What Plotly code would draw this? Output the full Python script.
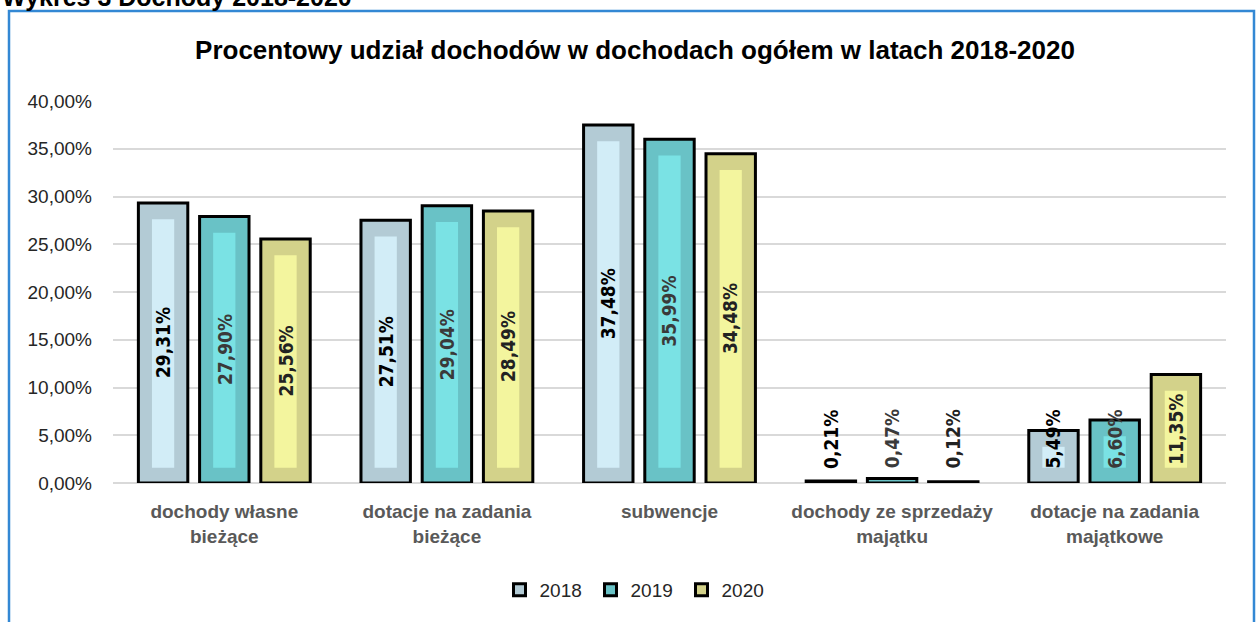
import plotly.graph_objects as go

categories = ["dochody własne<br>bieżące", "dotacje na zadania<br>bieżące", "subwencje",
              "dochody ze sprzedaży<br>majątku", "dotacje na zadania<br>majątkowe"]
years = ["2018", "2019", "2020"]
v2018 = [29.31, 27.51, 37.48, 0.21, 5.49]
v2019 = [27.90, 29.04, 35.99, 0.47, 6.60]
v2020 = [25.56, 28.49, 34.48, 0.12, 11.35]
series = [v2018, v2019, v2020]

outer_colors = ["#B3CBD5", "#69C2C6", "#D3D28A"]
inner_colors = ["#D2EDF7", "#7AE2E4", "#F3F59E"]
label_colors = ["#000000", "#3A3A3A", "#222222"]
centers = [-0.275, 0.0, 0.275]
W = 0.222
WI = 0.1
PAD_B, PAD_T = 1.6, 1.7

fig = go.Figure()
for j, (yr, vals) in enumerate(zip(years, series)):
    fig.add_trace(go.Bar(
        name=yr, x=categories, y=vals, width=W, offset=centers[j] - W / 2,
        marker=dict(color=outer_colors[j], line=dict(color="#000000", width=3)),
        hoverinfo="x+y",
    ))
for j, vals in enumerate(series):
    inner = [v - PAD_B - PAD_T if v > 4 else None for v in vals]
    fig.add_trace(go.Bar(
        x=categories, y=inner, base=PAD_B, width=WI, offset=centers[j] - WI / 2,
        marker=dict(color=inner_colors[j], line=dict(width=0)),
        showlegend=False, hoverinfo="skip",
    ))

annotations = []
for j, vals in enumerate(series):
    for i, v in enumerate(vals):
        annotations.append(dict(
            x=i + centers[j], y=max(v / 2, 4.6), xref="x", yref="y",
            text=f"{v:.2f}".replace(".", ",") + "%", textangle=-90, showarrow=False,
            xanchor="center", yanchor="middle",
            font=dict(family="Liberation Sans Narrow, Arial Narrow, DejaVu Sans Condensed, sans-serif",
                      size=19, color=label_colors[j], weight="bold"),
        ))
annotations.append(dict(
    text="<b>Wykres 3 Dochody 2018-2020</b>", xref="paper", yref="paper",
    x=(0 - 113) / 1113, y=1 + (101 + 3) / 382, xanchor="left", yanchor="middle",
    showarrow=False, font=dict(family="Liberation Sans, Arial, sans-serif", size=25, color="#000000"),
))

fig.update_layout(
    width=1257, height=622,
    margin=dict(l=113, r=31, t=101, b=139),
    barmode="overlay",
    paper_bgcolor="white", plot_bgcolor="white",
    separators=", ",
    font=dict(family="Liberation Sans, Arial, sans-serif", size=19, color="#262626"),
    title=dict(text="<b>Procentowy udział dochodów w dochodach ogółem w latach 2018-2020</b>",
               xref="paper", x=(635 - 113) / 1113, xanchor="center",
               yref="container", y=(622 - 50) / 622, yanchor="middle",
               font=dict(size=26, color="#000000")),
    xaxis=dict(showgrid=False, showline=False, ticks="", ticklabelstandoff=15,
               tickfont=dict(size=19, color="#595959", weight="bold")),
    yaxis=dict(range=[0, 40], dtick=5, tickformat=".2f", ticksuffix="%",
               showgrid=True, gridcolor="#D9D9D9", gridwidth=1.5,
               zeroline=True, zerolinecolor="#D9D9D9", zerolinewidth=1.5,
               showline=False, ticks="", ticklabelstandoff=20,
               tickfont=dict(size=19, color="#262626")),
    legend=dict(orientation="h", x=(636 - 113) / 1113, xanchor="center",
                y=(483 - 590) / 382, yanchor="middle", entrywidth=46,
                font=dict(size=19, color="#262626")),
    annotations=annotations,
    shapes=[dict(type="rect", xref="paper", yref="paper",
                 x0=(9 - 113) / 1113, x1=(1254 - 113) / 1113,
                 y0=(483 - 640) / 382, y1=1 + (101 - 11) / 382,
                 line=dict(color="#3388D4", width=2.5), fillcolor="rgba(0,0,0,0)", layer="below")],
)

fig.write_html("out.html", config={"displayModeBar": False},
               post_script="document.body.style.margin='0px';")
